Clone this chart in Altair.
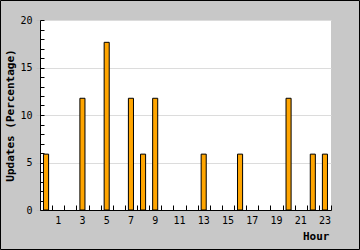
import altair as alt
import pandas as pd

hours = list(range(24))
values = [5.88, 0, 0, 11.76, 0, 17.65, 0, 11.76, 5.88, 11.76, 0, 0,
          0, 5.88, 0, 0, 5.88, 0, 0, 0, 11.76, 0, 5.88, 5.88]
y_ticks = [0, 5, 10, 15, 20]
minor_ticks = list(range(0, 21))

df = pd.DataFrame({"hour": hours, "value": values})

FONT = "DejaVu Sans Mono"
xscale = alt.Scale(domain=hours, paddingInner=0, paddingOuter=0)
yscale = alt.Scale(domain=[0, 20], nice=False, zero=True)

bars = alt.Chart(df).transform_filter("datum.value > 0").mark_bar(
    fill="#ffa500", stroke="black", strokeWidth=1,
    width=alt.RelativeBandSize(0.42)
).encode(
    x=alt.X("hour:O", scale=xscale, axis=alt.Axis(
        orient="bottom", labelExpr="datum.value % 2 == 1 ? datum.label : ''",
        ticks=False, domainColor="black", labelAngle=0, labelPadding=5,
        labelFont=FONT, labelFontSize=10, labelColor="black",
        title="Hour", titleFont=FONT, titleFontSize=11, titleFontWeight="bold",
        titleColor="black", titleX=289, titleY=26, titleAlign="right",
        titleBaseline="middle", grid=False)),
    y=alt.Y("value:Q", scale=yscale, axis=alt.Axis(
        orient="left", values=y_ticks, grid=True, gridColor="#dcdcdc",
        tickSize=4, tickColor="#c0c0c0", domainColor="black",
        labelPadding=4, labelFont=FONT, labelFontSize=10, labelColor="black",
        title="Updates (Percentage)", titleFont=FONT, titleFontSize=11,
        titleFontWeight="bold", titleColor="black", titleX=-30, titleY=95,
        titleAngle=270, titleAlign="center", titleBaseline="middle"))
)

inner = alt.Chart(df).mark_bar(opacity=0).encode(
    x=alt.X("hour:O", scale=xscale, axis=alt.Axis(
        orient="top", offset=-190, labels=False, domain=False, ticks=True,
        tickSize=5, tickWidth=1, tickBand="extent", tickColor="black",
        title=None, grid=False)),
    y=alt.Y("value:Q", scale=yscale, axis=alt.Axis(
        orient="right", offset=-291, values=minor_ticks, labels=False,
        domain=False, tickSize=4, tickWidth=1, tickColor="black",
        title=None, grid=False))
)

frame = alt.Chart(pd.DataFrame({"a": [0]})).mark_rect(
    filled=False, stroke="black", strokeWidth=1, clip=False
).encode(
    x=alt.value(-39.5), x2=alt.value(319.5), y=alt.value(-19.5), y2=alt.value(229.5)
)

chart = alt.layer(bars, inner, frame).resolve_axis(
    x="independent", y="independent"
).properties(
    width=291, height=190,
    autosize=alt.AutoSizeParams(type="none"),
    padding={"left": 40, "top": 20, "right": 29, "bottom": 40},
    background="#c8c8c8"
).configure_view(fill="white", stroke=None)

chart.save("out.html", embed_options={"renderer": "svg", "actions": False})
